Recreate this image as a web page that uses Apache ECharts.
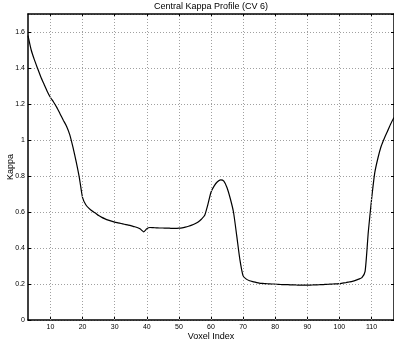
<!DOCTYPE html>
<html><head><meta charset="utf-8">
<script src="https://cdn.jsdelivr.net/npm/echarts@6/dist/echarts.min.js"></script>
<style>html,body{margin:0;padding:0;background:#fff}#c{width:394px;height:348px}</style>
</head><body><div id="c"></div>
<script>
const title = "Central Kappa Profile (CV 6)";
const xName = "Voxel Index";
const yName = "Kappa";
const xTicks = [10,20,30,40,50,60,70,80,90,100,110];
const yTicks = [0,0.2,0.4,0.6,0.8,1,1.2,1.4,1.6];
const voxelIndex = [];
for (let i = 3; i <= 117; i++) voxelIndex.push(i);
const kappa = [
 1.58,1.50,1.445,1.397,1.35,1.31,1.27,1.236,1.21,1.18,        // 3-12
 1.145,1.11,1.077,1.03,0.96,0.88,0.79,0.68,0.64,0.62,          // 13-22
 0.605,0.594,0.58,0.57,0.562,0.555,0.549,0.544,0.54,0.536,     // 23-32
 0.532,0.528,0.524,0.519,0.514,0.505,0.49,0.507,0.514,0.513,   // 33-42
 0.512,0.511,0.511,0.51,0.51,0.509,0.509,0.51,0.512,0.516,     // 43-52
 0.521,0.527,0.535,0.545,0.56,0.58,0.64,0.71,0.745,0.768,      // 53-62
 0.779,0.772,0.735,0.675,0.6,0.47,0.335,0.245,0.227,0.218,     // 63-72
 0.213,0.209,0.205,0.203,0.202,0.201,0.2,0.2,0.198,0.197,      // 73-82
 0.196,0.196,0.195,0.195,0.194,0.194,0.194,0.194,0.194,0.195,  // 83-92
 0.195,0.196,0.197,0.198,0.199,0.2,0.201,0.202,0.205,0.207,    // 93-102
 0.211,0.215,0.22,0.227,0.235,0.27,0.49,0.668,0.817,0.90,      // 103-112
 0.965,1.01,1.05,1.09,1.125                                    // 113-117
];
const chart = echarts.init(document.getElementById('c'), null, {renderer:'canvas'});
const font = 'Liberation Sans, Arial, Helvetica, sans-serif';
const gridCommon = {show:true, lineStyle:{color:'#a0a0a0', type:[1,2], width:1}};
chart.setOption({
  animation:false,
  title:{text:title, left:211, textAlign:'center', top:2, padding:0, textStyle:{fontSize:9, fontWeight:'normal', color:'#000', fontFamily:font}},
  grid:{left:28, right:0, top:14, bottom:28, show:false, containLabel:false, outerBoundsMode:'none'},
  xAxis:[{
    type:'value', min:3, max:117,
    name:xName, nameLocation:'middle', nameGap:12, nameMoveOverlap:false,
    nameTextStyle:{fontSize:9, color:'#000', fontFamily:font, verticalAlign:'top'},
    axisLine:{show:true, onZero:false, lineStyle:{color:'#000', width:1.5}},
    axisTick:{show:true, inside:true, length:3, customValues:xTicks, lineStyle:{color:'#000'}},
    axisLabel:{customValues:xTicks, fontSize:7, color:'#000', margin:4, fontFamily:font},
    splitLine:{show:false}
  },{
    type:'value', min:3, max:117, position:'top',
    axisLine:{show:true, onZero:false, lineStyle:{color:'#000', width:1.5}},
    axisTick:{show:true, inside:true, length:3, customValues:xTicks, lineStyle:{color:'#000'}},
    axisLabel:{show:false},
    splitLine:{show:false}
  }],
  yAxis:[{
    type:'value', min:0, max:1.7, interval:0.2,
    name:yName, nameLocation:'middle', nameGap:13, nameRotate:90, nameMoveOverlap:false,
    nameTextStyle:{fontSize:9, color:'#000', fontFamily:font},
    axisLine:{show:true, onZero:false, lineStyle:{color:'#000', width:1.5}},
    axisTick:{show:true, inside:true, length:3, lineStyle:{color:'#000'}},
    axisLabel:{fontSize:7, color:'#000', margin:3, showMaxLabel:false, fontFamily:font},
    splitLine:gridCommon
  },{
    type:'value', min:0, max:1.7, interval:0.2, position:'right',
    axisLine:{show:true, onZero:false, lineStyle:{color:'#000', width:1.5}},
    axisTick:{show:true, inside:true, length:3, lineStyle:{color:'#000'}},
    axisLabel:{show:false},
    splitLine:{show:false}
  }],
  series:[{
    type:'line', xAxisIndex:0, yAxisIndex:0,
    data: voxelIndex.map((x,i)=>[x,kappa[i]]),
    showSymbol:false, smooth:0.2,
    lineStyle:{color:'#000', width:1.2},
    markLine:{
      silent:true, symbol:['none','none'], label:{show:false},
      lineStyle:{color:'#a0a0a0', type:[1,2], width:1},
      data: xTicks.map(v=>({xAxis:v}))
    },
    z:3
  }]
});
</script></body></html>
